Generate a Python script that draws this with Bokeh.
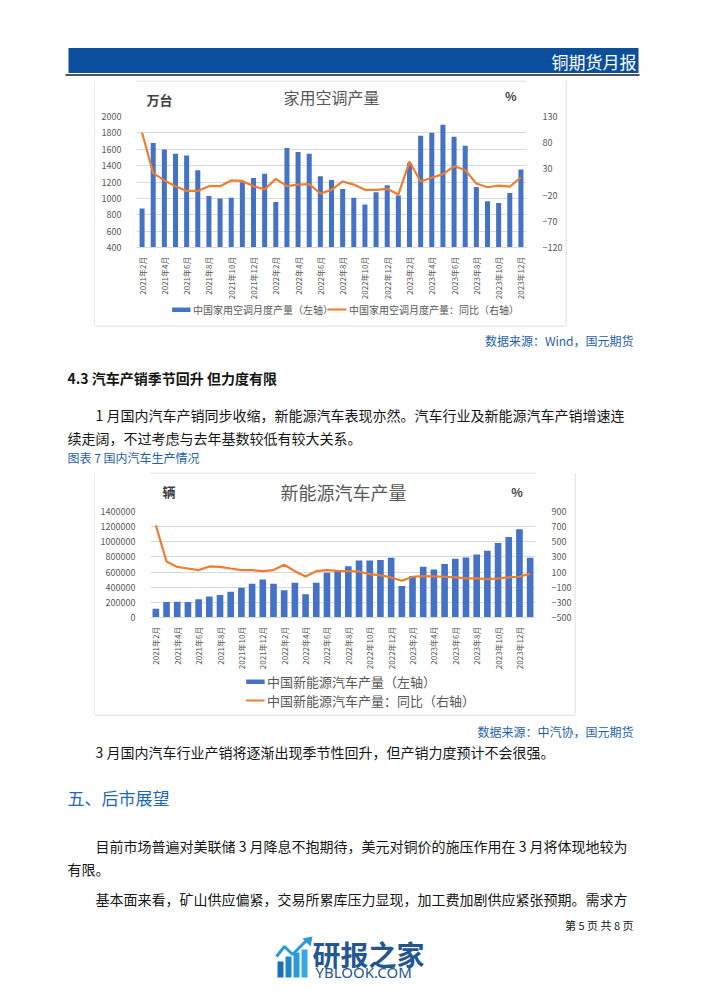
from math import pi
from bokeh.plotting import figure
from bokeh.layouts import column, row
from bokeh.models import (Range1d, LinearAxis, FixedTicker, ColumnDataSource,
                          BasicTickFormatter)
from bokeh.core.properties import value
from bokeh.embed import file_html
from bokeh.resources import INLINE

FONT = "Noto Sans CJK SC"
BLUE = "#4472C4"
ORANGE = "#ED7D31"
GRAY = "#595959"
GRID = "#d9d9d9"
BOX = "#d4d4d4"
CAP = "#1f5fa8"
TXT = "#151515"

# ---------------- chart 1: 家用空调产量 ----------------
ac_title = "家用空调产量"
ac_unit = "万台"
ac_legend = ["中国家用空调月度产量（左轴）", "中国家用空调月度产量：同比（右轴）"]
ac_months = ["2021年2月", "2021年3月", "2021年4月", "2021年5月", "2021年6月", "2021年7月",
             "2021年8月", "2021年9月", "2021年10月", "2021年11月", "2021年12月",
             "2022年1月", "2022年2月", "2022年3月", "2022年4月", "2022年5月", "2022年6月",
             "2022年7月", "2022年8月", "2022年9月", "2022年10月", "2022年11月", "2022年12月",
             "2023年1月", "2023年2月", "2023年3月", "2023年4月", "2023年5月", "2023年6月",
             "2023年7月", "2023年8月", "2023年9月", "2023年10月", "2023年11月", "2023年12月"]
ac_output = [875, 1675, 1598, 1546, 1525, 1343, 1030, 997, 1009, 1196, 1249, 1302,
             957, 1615, 1566, 1546, 1269, 1225, 1115, 1009, 924, 1074, 1160, 1034,
             1432, 1765, 1802, 1899, 1753, 1643, 1139, 965, 944, 1066, 1354]
ac_yoy = [99, 22, 8, -3, -12, -12, -3, -3, 8, 7, -3, -9,
          11, -3, 0, 1, -17, -10, 6, 0, -10, -10, -8, -19,
          44, 6, 13, 20, 35, 28, 2, -5, -2, -4, 14]
ac_left_ticks = [400, 600, 800, 1000, 1200, 1400, 1600, 1800, 2000]
ac_right_ticks = [-120, -70, -20, 30, 80, 130]
ac_label_ticks = list(range(0, 35, 2))

# ---------------- chart 2: 新能源汽车产量 ----------------
nev_title = "新能源汽车产量"
nev_unit = "辆"
nev_legend = ["中国新能源汽车产量（左轴）", "中国新能源汽车产量：同比（右轴）"]
nev_months = ac_months + ["2024年1月"]
nev_output = [115000, 205000, 207000, 205000, 240000, 276000, 298000, 341000, 394000,
              446000, 503000, 446000, 359000, 460000, 306000, 460000, 591000, 613000,
              678000, 753000, 753000, 761000, 788000, 416000, 547000, 670000, 635000,
              705000, 775000, 792000, 831000, 880000, 985000, 1063000, 1164000, 788000]
nev_yoy = [716, 240, 168, 147, 126, 174, 169, 147, 126, 126, 112, 126,
           196, 112, 42, 112, 126, 117, 112, 108, 73, 56, 29, -15,
           38, 47, 42, 38, 29, 16, 16, 7, 16, 29, 38, 80]
nev_left_ticks = [0, 200000, 400000, 600000, 800000, 1000000, 1200000, 1400000]
nev_right_ticks = [-500, -300, -100, 100, 300, 500, 700, 900]
nev_label_ticks = list(range(0, 35, 2))


def style_axis(ax, size="9px", standoff=8):
    ax.axis_line_color = None
    ax.major_tick_line_color = None
    ax.minor_tick_line_color = None
    ax.major_label_text_font = FONT
    ax.major_label_text_font_size = size
    ax.major_label_text_color = GRAY
    ax.major_label_standoff = standoff


def page(w, h, x0, y0):
    """A plain drawing strip whose coordinates are window pixels."""
    p = figure(width=w, height=h, x_range=Range1d(x0, x0 + w), y_range=Range1d(y0 + h, y0),
               x_axis_type=None, y_axis_type=None, toolbar_location=None, title=None,
               output_backend="svg", min_border=0, outline_line_color=None,
               background_fill_color="white", border_fill_color="white")
    return p


def ptext(p, x, y, t, size="14px", color=TXT, align="left", bold=False, font=FONT):
    p.text(x=[x], y=[y], text=[t], text_font=value(font), text_font_size=value(size),
           text_color=color, text_align=align, text_baseline="middle",
           text_font_style="bold" if bold else "normal")


def chart(months, output, yoy, left_ticks, right_ticks, label_ticks, yl, yr,
          box, frame, bar_w, sci=False):
    bx, by, bw, bh = box
    fl, fr, ft, fb = frame
    n = len(months)
    p = figure(width=bw, height=bh, x_range=Range1d(-0.5, n - 0.5), y_range=Range1d(*yl),
               output_backend="svg", toolbar_location=None, title=None,
               min_border_left=fl - bx, min_border_right=bx + bw - fr,
               min_border_top=ft - by, min_border_bottom=by + bh - fb,
               outline_line_color=None, background_fill_color="white",
               border_fill_color="white")
    src = ColumnDataSource(dict(idx=list(range(n)), month=months, output=output, yoy=yoy))
    p.vbar(x="idx", top="output", bottom=0, width=bar_w, source=src,
           fill_color=BLUE, line_color=None)
    p.extra_y_ranges = {"yoy": Range1d(*yr)}
    p.line(x="idx", y="yoy", source=src, y_range_name="yoy",
           line_color=ORANGE, line_width=2.2)

    p.xgrid.grid_line_color = None
    p.ygrid.grid_line_color = GRID
    p.ygrid.ticker = FixedTicker(ticks=left_ticks)

    yax = p.yaxis[0]
    yax.ticker = FixedTicker(ticks=left_ticks)
    style_axis(yax, standoff=9)
    if sci:
        yax.formatter = BasicTickFormatter(use_scientific=False)

    rax = LinearAxis(y_range_name="yoy", ticker=FixedTicker(ticks=right_ticks))
    style_axis(rax, standoff=10)
    p.add_layout(rax, "right")

    xax = p.xaxis[0]
    xax.ticker = FixedTicker(ticks=label_ticks)
    xax.major_label_overrides = {i: months[i] for i in label_ticks}
    xax.major_label_orientation = pi / 2
    style_axis(xax, size="8px", standoff=3)
    xax.axis_line_color = GRID
    return p


# ---------------- chart 1 box (window x 95..565, y 80..325) ----------------
t1 = page(470, 30, 95, 80)
t1.segment(x0=[94], y0=[80.5], x1=[566], y1=[80.5], line_color=BOX, line_width=1)
ptext(t1, 330, 96, ac_title, size="16px", color=GRAY, align="center")
ptext(t1, 107, 99, ac_unit, size="13px", color="#404040", bold=True)
ptext(t1, 546, 95, "%", size="12px", color="#404040", align="center", bold=True)

c1 = chart(ac_months, ac_output, ac_yoy, ac_left_ticks, ac_right_ticks, ac_label_ticks,
           (400, 2000), (-120, 130), (95, 110, 470, 193), (136, 528, 116, 247), 0.45)

b1 = page(470, 22, 95, 303)
b1.quad(left=[138], right=[160], top=[307], bottom=[311.5], fill_color=BLUE, line_color=None)
ptext(b1, 163, 309, ac_legend[0], size="10px", color=GRAY)
b1.segment(x0=[325], y0=[309], x1=[348], y1=[309], line_color=ORANGE, line_width=2)
ptext(b1, 351, 309, ac_legend[1], size="10px", color=GRAY)

l1 = page(95, 245, 0, 80)
l1.segment(x0=[94.5], y0=[80], x1=[94.5], y1=[325], line_color=BOX, line_width=1)
r1 = page(129, 245, 565, 80)
r1.segment(x0=[565.5], y0=[80], x1=[565.5], y1=[325], line_color=BOX, line_width=1)

# ---------------- chart 2 box (window x 95..574, y 472..714) ----------------
t2 = page(479, 32, 95, 472)
t2.segment(x0=[94], y0=[472.5], x1=[575], y1=[472.5], line_color=BOX, line_width=1)
ptext(t2, 335, 491, nev_title, size="18px", color=GRAY, align="center")
ptext(t2, 110, 491, nev_unit, size="13px", color="#404040", bold=True)
ptext(t2, 551, 491, "%", size="12px", color="#404040", align="center", bold=True)

c2 = chart(nev_months, nev_output, nev_yoy, nev_left_ticks, nev_right_ticks, nev_label_ticks,
           (0, 1400000), (-500, 900), (95, 504, 479, 168), (150, 537, 511, 618), 0.62,
           sci=True)

b2 = page(479, 42, 95, 672)
b2.quad(left=[214], right=[237], top=[679], bottom=[683.5], fill_color=BLUE, line_color=None)
ptext(b2, 240, 681, nev_legend[0], size="13px", color=GRAY)
b2.segment(x0=[214], y0=[700], x1=[237], y1=[700], line_color=ORANGE, line_width=2)
ptext(b2, 240, 700, nev_legend[1], size="13px", color=GRAY)

l2 = page(95, 242, 0, 472)
l2.segment(x0=[94.5], y0=[472], x1=[94.5], y1=[714], line_color=BOX, line_width=1)
r2 = page(120, 242, 574, 472)
r2.segment(x0=[574.5], y0=[472], x1=[574.5], y1=[714], line_color=BOX, line_width=1)

# ---------------- page text ----------------
W = 694

s1 = page(W, 80, 0, 0)
s1.quad(left=[68], right=[638], top=[47.5], bottom=[72.5], fill_color="#0b4f9c", line_color=None)
s1.segment(x0=[65], y0=[74.5], x1=[639], y1=[74.5], line_color="#1a1a1a", line_width=1.3)
ptext(s1, 636, 60.5, "铜期货月报", size="17px", color="white", align="right")

s2 = page(W, 147, 0, 325)
s2.segment(x0=[94], y0=[325.5], x1=[566], y1=[325.5], line_color=BOX, line_width=1)
ptext(s2, 633, 340, "数据来源：Wind，国元期货", size="12px", color=CAP, align="right")
ptext(s2, 67, 377, "4.3 汽车产销季节回升  但力度有限", size="14px", bold=True)
ptext(s2, 95, 414, "1 月国内汽车产销同步收缩，新能源汽车表现亦然。汽车行业及新能源汽车产销增速连")
ptext(s2, 67, 437, "续走阔，不过考虑与去年基数较低有较大关系。")
ptext(s2, 67, 457, "图表 7 国内汽车生产情况", size="12px", color=CAP)

s3 = page(W, 271, 0, 714)
s3.segment(x0=[94], y0=[714.5], x1=[575], y1=[714.5], line_color=BOX, line_width=1)
ptext(s3, 633, 731, "数据来源：中汽协，国元期货", size="12px", color=CAP, align="right")
ptext(s3, 95, 751, "3 月国内汽车行业产销将逐渐出现季节性回升，但产销力度预计不会很强。")
ptext(s3, 67, 797, "五、后市展望", size="17px", color="#1f68b3")
ptext(s3, 95, 845, "目前市场普遍对美联储 3 月降息不抱期待，美元对铜价的施压作用在 3 月将体现地较为")
ptext(s3, 67, 868, "有限。")
ptext(s3, 95, 898, "基本面来看，矿山供应偏紧，交易所累库压力显现，加工费加剧供应紧张预期。需求方")
ptext(s3, 633, 924, "第 5 页 共 8 页", size="11px", align="right")

# logo
s3.quad(left=[277, 285, 293, 301], right=[283, 291, 299, 307],
        top=[961, 956, 952, 949], bottom=[977, 977, 977, 977],
        fill_color=["#1b6fb8", "#1f86cc", "#2a9ad8", "#36a9e1"], line_color=None)
s3.line(x=[276, 284, 292, 306], y=[956, 946, 954, 940], line_color="#2a9ad8", line_width=3)
s3.patch(x=[302, 312, 310], y=[938, 936, 946], fill_color="#2a9ad8", line_color=None)
ptext(s3, 312, 953, "研报之家", size="28px", color="#24568f", bold=True)
ptext(s3, 315, 971, "YBLOOK.COM", size="15px", color="#24568f", font="Noto Sans")

layout = column(
    s1,
    row(l1, column(t1, c1, b1), r1),
    s2,
    row(l2, column(t2, c2, b2), r2),
    s3,
)

open("out.html", "w").write(file_html(layout, INLINE))
